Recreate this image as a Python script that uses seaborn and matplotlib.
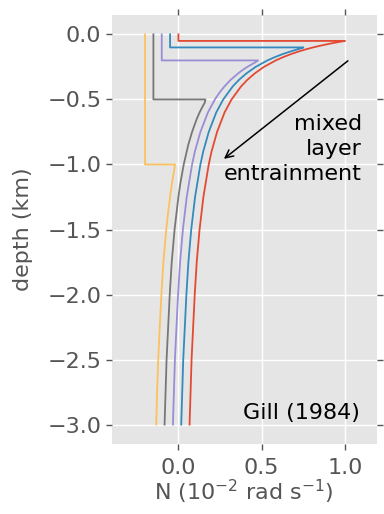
import matplotlib
matplotlib.use("Agg")
import matplotlib.pyplot as plt
import numpy as np
import pandas as pd
import seaborn as sns

# Buoyancy-frequency profiles for increasing mixed-layer depth (after Gill 1984).
# Each profile: N is uniform in the mixed layer, jumps at its base, then decays.
depth_h005 = [0.0, -0.05, -0.05, -0.055, -0.06, -0.07, -0.08, -0.09, -0.1, -0.115,
              -0.13, -0.15, -0.175, -0.2, -0.25, -0.3, -0.35, -0.4, -0.5, -0.6,
              -0.75, -0.9, -1.0, -1.25, -1.5, -1.75, -2.0, -2.5, -3.0]
n_h005 = [0.0, 0.0, 1.0, 0.977, 0.955, 0.913, 0.876, 0.841, 0.808, 0.764,
          0.725, 0.678, 0.628, 0.584, 0.513, 0.458, 0.413, 0.376, 0.319, 0.277,
          0.232, 0.199, 0.182, 0.150, 0.127, 0.110, 0.098, 0.079, 0.067]

depth_h01 = [0.0, -0.1, -0.1, -0.11, -0.12, -0.135, -0.15, -0.175, -0.2, -0.25,
             -0.3, -0.35, -0.4, -0.5, -0.6, -0.75, -0.9, -1.0, -1.25, -1.5,
             -1.75, -2.0, -2.5, -3.0]
n_h01 = [-0.05, -0.05, 0.75, 0.729, 0.701, 0.663, 0.628, 0.578, 0.534, 0.463,
         0.408, 0.363, 0.326, 0.269, 0.227, 0.182, 0.149, 0.132, 0.100, 0.077,
         0.060, 0.048, 0.029, 0.017]

depth_h02 = [0.0, -0.2, -0.2, -0.215, -0.23, -0.25, -0.275, -0.3, -0.35, -0.4,
             -0.45, -0.5, -0.6, -0.75, -0.9, -1.0, -1.25, -1.5, -1.75, -2.0,
             -2.5, -3.0]
n_h02 = [-0.1, -0.1, 0.478, 0.461, 0.440, 0.413, 0.384, 0.358, 0.313, 0.276,
         0.245, 0.219, 0.177, 0.132, 0.099, 0.082, 0.050, 0.027, 0.010, -0.002,
         -0.021, -0.033]

depth_h05 = [0.0, -0.5, -0.5, -0.525, -0.55, -0.6, -0.65, -0.75, -0.85, -1.0,
             -1.15, -1.25, -1.5, -1.75, -2.0, -2.5, -3.0]
n_h05 = [-0.15, -0.15, 0.162, 0.158, 0.147, 0.127, 0.110, 0.082, 0.059, 0.032,
         0.011, 0.0, -0.023, -0.040, -0.052, -0.071, -0.083]

depth_h10 = [0.0, -1.0, -1.0, -1.05, -1.1, -1.2, -1.35, -1.5, -1.75, -2.0,
             -2.25, -2.5, -2.75, -3.0]
n_h10 = [-0.2, -0.2, -0.02, -0.026, -0.033, -0.045, -0.060, -0.073, -0.090, -0.102,
         -0.112, -0.121, -0.128, -0.133]

case_names = ["h=0.05", "h=0.1", "h=0.2", "h=0.5", "h=1.0"]
case_colors = ["#E24A33", "#348ABD", "#988ED5", "#777777", "#FBC15E"]

xticks = [0.0, 0.5, 1.0]
yticks = [0.0, -0.5, -1.0, -1.5, -2.0, -2.5, -3.0]

frames = []
for name, d, n in zip(case_names,
                      [depth_h005, depth_h01, depth_h02, depth_h05, depth_h10],
                      [n_h005, n_h01, n_h02, n_h05, n_h10]):
    frames.append(pd.DataFrame({"depth": d, "N": n, "case": name}))
df = pd.concat(frames, ignore_index=True)

plt.style.use("ggplot")
plt.rcParams["font.family"] = ["DejaVu Sans"]

fig = plt.figure(figsize=(3.84, 5.14), dpi=100)
ax = fig.add_axes([0.291, 0.136, 0.690, 0.835])

sns.lineplot(data=df, x="N", y="depth", hue="case", units="case",
             estimator=None, sort=False, palette=case_colors,
             hue_order=case_names, linewidth=1.3, legend=False, ax=ax)

ax.set_xlim(-0.4, 1.19)
ax.set_ylim(-3.15, 0.15)
ax.set_xticks(xticks)
ax.set_yticks(yticks)
ax.set_xticklabels([f"{v:.1f}" for v in xticks])
ax.set_yticklabels([f"{v:.1f}".replace("-", "\u2212") for v in yticks])
ax.tick_params(axis="both", labelsize=16, colors="#555555", direction="out",
               length=4, width=1, top=True, right=True)
ax.tick_params(axis="x", pad=6)
ax.grid(True, color="white", linewidth=1)
for s in ax.spines.values():
    s.set_visible(False)

ax.set_xlabel(r"N (10$^{-2}$ rad s$^{-1}$)", fontsize=16, color="#555555",
              labelpad=0)
ax.set_ylabel("depth (km)", fontsize=16, color="#555555", labelpad=10)

ax.annotate("", xy=(0.26, -0.97), xytext=(1.03, -0.19),
            arrowprops=dict(arrowstyle="->", color="black", lw=1.1,
                            mutation_scale=14))
ax.text(1.10, -0.88, "mixed\nlayer\nentrainment", ha="right", va="center",
        multialignment="right", fontsize=16, color="black", linespacing=1.3)
ax.text(0.935, 0.05, "Gill (1984)", transform=ax.transAxes, ha="right",
        va="bottom", fontsize=16, color="black")

fig.savefig("out.png", dpi=100)
